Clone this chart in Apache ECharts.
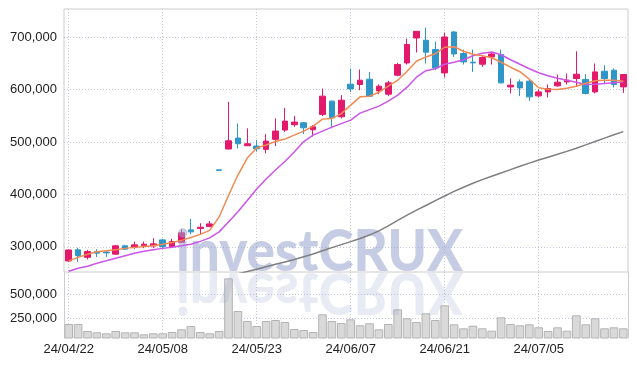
<!DOCTYPE html>
<html><head><meta charset="utf-8">
<script src="https://cdn.jsdelivr.net/npm/echarts@6/dist/echarts.min.js"></script>
<style>html,body{margin:0;padding:0;background:#fff}#c{width:637px;height:366px}</style>
</head><body><div id="c"></div>
<script>
const dates = ['24/04/22','24/04/23','24/04/24','24/04/25','24/04/26','24/04/29','24/04/30','24/05/02','24/05/03','24/05/07',
'24/05/08','24/05/09','24/05/10','24/05/13','24/05/14','24/05/16','24/05/17','24/05/20','24/05/21','24/05/22',
'24/05/23','24/05/24','24/05/27','24/05/28','24/05/29','24/05/30','24/05/31','24/06/03','24/06/04','24/06/05',
'24/06/07','24/06/10','24/06/11','24/06/12','24/06/13','24/06/14','24/06/17','24/06/18','24/06/19','24/06/20',
'24/06/21','24/06/24','24/06/25','24/06/26','24/06/27','24/06/28','24/07/01','24/07/02','24/07/03','24/07/04',
'24/07/05','24/07/08','24/07/09','24/07/10','24/07/11','24/07/12','24/07/15','24/07/16','24/07/17','24/07/18'];

const openP = [273000,294300,280000,291000,290000,286100,301900,298700,302500,301900,
313300,300600,308600,332400,334900,338700,447000,486700,507600,493000,
492400,486100,505200,522900,533000,536800,523400,552800,578100,548200,
610500,609900,620000,597700,591400,627600,651100,698700,694300,676600,
632000,710100,669000,652400,648600,662500,667100,605300,614900,616200,
588200,595800,607300,614900,621300,619500,595800,635200,637100,605300];
const closeP = [294000,283400,291000,288000,288500,301900,295600,303800,305100,305700,
300600,310100,326700,328600,337500,343800,446000,502500,496800,496800,
487200,501900,521000,540000,538100,527300,529200,587600,546300,580000,
601500,618100,587600,606700,613000,648000,686100,711400,671500,641500,
700600,668200,653000,651100,661400,668200,613000,608600,603400,586300,
595800,602300,614300,618100,629500,592800,633900,621300,609900,629000];
const lowP = [272000,271400,276000,280400,280400,285000,295000,296200,297500,297500,
297500,298700,307600,324200,322900,337500,446000,486000,488000,492400,
481500,478500,492400,519600,529200,515200,510900,549500,526100,545200,
595800,599000,586300,591400,587600,625700,648000,670900,649900,637100,
623300,662500,648000,633900,643400,648000,612000,592800,587600,578700,
585100,585100,605300,609900,606700,590900,592800,611800,604200,593900];
const highP = [295000,298100,294000,295600,291500,303000,303800,310100,310000,316600,
315200,315200,333700,353300,345100,349500,447000,576800,535600,526100,
503800,515200,545200,565300,550100,538100,532400,602300,579400,589600,
640400,638500,633900,609900,616800,651100,697500,712000,718500,691800,
709000,712000,676600,676600,663800,671500,676600,621300,619500,619500,
600400,609900,629000,630900,673300,629500,649900,646700,640400,630000];

const maShort = [273300,280000,285700,290500,292400,294300,297100,299000,300600,301900,
304800,308200,312400,317700,323800,331400,357100,398100,437100,469500,
488600,494300,501000,505700,513300,521000,530500,543800,545100,554300,
570500,586300,587600,595200,606700,618100,635200,654300,662500,668600,
681000,681900,673300,667600,664800,661000,652400,642900,634300,620000,
603800,601000,600400,602900,606700,612400,617100,618100,618100,616200];
const maMid = [253300,259000,262900,268600,273300,278100,282900,287600,291400,294300,
297100,299400,301900,305100,310500,317100,328600,347600,367200,388600,
410500,429500,446700,462900,481000,501000,513300,521000,528600,535200,
541900,555200,561900,568600,578100,589500,604800,623800,636200,640000,
648600,652400,657100,664800,669500,672000,666700,657100,648600,640000,
632400,626700,621900,618100,614300,609900,610500,611800,613000,614900];
const maLong = [null,null,null,null,null,null,null,null,null,null,
null,null,null,null,null,null,null,244000,248500,252800,
257400,262000,266600,271200,276000,281000,286500,292500,298500,304300,
310000,316000,322500,330500,340000,350500,360500,370000,379000,388200,
397100,405800,413800,421300,428300,434800,441000,447400,453800,459800,
465700,471200,476600,482200,488200,494600,501200,507600,514000,520000];

const volumes = [187700,187700,114900,101300,90900,114900,101300,101300,80500,90900,
90900,104500,132600,166900,104500,90900,114900,663400,323000,219000,
166900,219000,229400,208500,135700,125300,104500,288700,219000,198100,
236600,174200,195000,132600,187700,340700,247100,208500,299100,229400,
382400,184600,143000,170000,143000,118000,257500,187700,174200,184600,
153400,114900,153400,118000,278300,184600,247100,143000,153400,143000];

const priceTicks = [300000,400000,500000,600000,700000];
const volTicks = [250000,500000];

const upColor = '#e3196b', downColor = '#2e96c9';
const candleData = dates.map((d, i) => [openP[i], closeP[i], lowP[i], highP[i]]);
const fmt = v => String(v).replace(/\B(?=(\d{3})+(?!\d))/g, ',');
const gridLine = {show: true, lineStyle: {color: '#c3c8dc', type: [1, 2], width: 1}};
const lbl = {color: '#222222', fontSize: 13, fontFamily: 'Liberation Sans'};
const wmFont = '900 57px "Lato", "Liberation Sans"';

const chart = echarts.init(document.getElementById('c'), null, {renderer: 'canvas'});
chart.setOption({
  animation: false,
  textStyle: {fontFamily: 'Liberation Sans'},
  grid: [
    {left: 64, right: 9, top: 9, height: 263, show: true, borderColor: '#cccccc', borderWidth: 1},
    {left: 64, right: 9, top: 272, height: 66}
  ],
  xAxis: [
    {type: 'category', gridIndex: 0, data: dates, boundaryGap: true,
     axisLine: {show: false}, axisTick: {show: false}, axisLabel: {show: false},
     splitLine: Object.assign({interval: 9, alignWithLabel: true}, gridLine)},
    {type: 'category', gridIndex: 1, data: dates, boundaryGap: true,
     axisLine: {show: false}, axisTick: {show: false},
     axisLabel: Object.assign({interval: 9, margin: 5}, lbl),
     splitLine: Object.assign({interval: 9, alignWithLabel: true}, gridLine)}
  ],
  yAxis: [
    {type: 'value', gridIndex: 0, min: 252000, max: 754000,
     axisLine: {show: false}, axisTick: {show: false, customValues: priceTicks},
     axisLabel: Object.assign({customValues: priceTicks, formatter: fmt, margin: 7}, lbl),
     splitLine: gridLine},
    {type: 'value', gridIndex: 1, min: 42000, max: 729000,
     axisLine: {show: true, lineStyle: {color: '#cccccc'}}, axisTick: {show: false, customValues: volTicks},
     axisLabel: Object.assign({customValues: volTicks, margin: 7}, lbl),
     splitLine: gridLine},
    {type: 'value', gridIndex: 1, position: 'right', min: 42000, max: 729000,
     axisLine: {show: true, lineStyle: {color: '#cccccc'}}, axisTick: {show: false},
     axisLabel: {show: false}, splitLine: {show: false}}
  ],
  graphic: [
    {type: 'text', x: 176, y: 272, scaleX: 0.93, z: 3, silent: true,
     style: {text: 'investCRUX', x: 0, y: -19, verticalAlign: 'middle', font: wmFont, fill: 'rgba(150,162,205,0.55)'}},
    {type: 'text', x: 176, y: 272, scaleX: 0.93, scaleY: -1, z: 3, silent: true,
     style: {text: 'investCRUX', x: 0, y: -19, verticalAlign: 'middle', font: wmFont, fill: 'rgba(150,162,205,0.22)'}}
  ],
  series: [
    {type: 'candlestick', xAxisIndex: 0, yAxisIndex: 0, data: candleData, barWidth: 6, z: 2,
     itemStyle: {color: upColor, color0: downColor, borderColor: upColor, borderColor0: downColor, borderWidth: 1}},
    {type: 'line', xAxisIndex: 0, yAxisIndex: 0, data: maLong, symbol: 'none', z: 4,
     lineStyle: {color: '#7f7f7f', width: 1.5}},
    {type: 'line', xAxisIndex: 0, yAxisIndex: 0, data: maMid, symbol: 'none', z: 4,
     lineStyle: {color: '#cc55ea', width: 1.5}},
    {type: 'line', xAxisIndex: 0, yAxisIndex: 0, data: maShort, symbol: 'none', z: 4,
     lineStyle: {color: '#f08a52', width: 1.5}},
    {type: 'bar', xAxisIndex: 1, yAxisIndex: 1, data: volumes, barCategoryGap: '8%',
     itemStyle: {color: '#d9d9d9', borderColor: '#b4b4b4', borderWidth: 1}}
  ]
});
</script></body></html>
